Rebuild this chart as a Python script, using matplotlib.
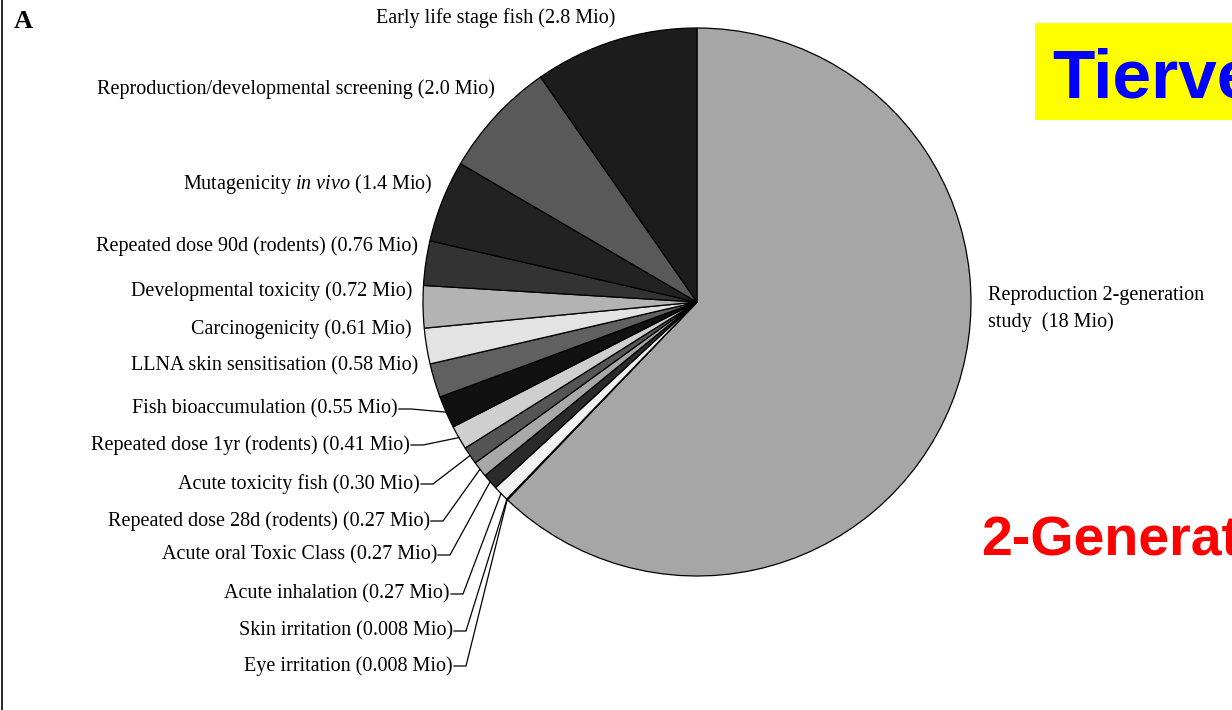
import matplotlib.pyplot as plt
import numpy as np

plt.rcParams['font.family'] = ['Liberation Serif', 'DejaVu Serif']
plt.rcParams['mathtext.fontset'] = 'custom'
plt.rcParams['mathtext.rm'] = 'Liberation Serif'
plt.rcParams['mathtext.it'] = 'Liberation Serif:italic'

# slices in clockwise order starting at 12 o'clock
labels = ["Reproduction 2-generation\nstudy  (18 Mio)",
          "Eye irritation (0.008 Mio)",
          "Skin irritation (0.008 Mio)",
          "Acute inhalation (0.27 Mio)",
          "Acute oral Toxic Class (0.27 Mio)",
          "Repeated dose 28d (rodents) (0.27 Mio)",
          "Acute toxicity fish (0.30 Mio)",
          "Repeated dose 1yr (rodents) (0.41 Mio)",
          "Fish bioaccumulation (0.55 Mio)",
          "LLNA skin sensitisation (0.58 Mio)",
          "Carcinogenicity (0.61 Mio)",
          "Developmental toxicity (0.72 Mio)",
          "Repeated dose 90d (rodents) (0.76 Mio)",
          r"Mutagenicity $\mathit{in\ vivo}$ (1.4 Mio)",
          "Reproduction/developmental screening (2.0 Mio)",
          "Early life stage fish (2.8 Mio)"]
animals = [18, 0.008, 0.008, 0.27, 0.27, 0.27, 0.30, 0.41, 0.55,
           0.58, 0.61, 0.72, 0.76, 1.4, 2.0, 2.8]

colors = ['#a6a6a6', '#000000', '#000000', '#f2f2f2', '#2b2b2b', '#a8a8a8',
          '#555555', '#cfcfcf', '#111111', '#606060', '#e3e3e3', '#b3b3b3',
          '#333333', '#222222', '#595959', '#1c1c1c']

# label anchors in pixels (x = right end of text, y from top)
lab_x = [988, 453, 453, 450, 437, 430, 420, 410, 398, 418, 412, 412, 418, 433, 495, 615]
lab_y = [309, 666, 631, 594, 555, 521, 484, 445, 409, 366, 329, 291, 246, 184, 89, 18]
has_line = [False] + [True] * 8 + [False] * 7

W, H = 1232, 710
fig = plt.figure(figsize=(W / 100, H / 100), dpi=100)
ax = fig.add_axes([0, 0, 1, 1])

cx, cy, r = 697, H - 302, 274
wedges, _ = ax.pie(animals, colors=colors, startangle=90, counterclock=False,
                   center=(cx, cy), radius=r, frame=True,
                   wedgeprops=dict(edgecolor='black', linewidth=0.9))
ax.set_xlim(0, W)
ax.set_ylim(0, H)
ax.set_aspect('equal')
ax.axis('off')

for i, (lab, x, y) in enumerate(zip(labels, lab_x, lab_y)):
    yy = H - y
    if i == 0:
        ax.text(x, yy, lab, ha='left', va='center', fontsize=14.5, linespacing=1.55)
        continue
    ax.text(x, yy, lab, ha='right', va='center', fontsize=14.5)
    if has_line[i]:
        w = wedges[i]
        ang = np.deg2rad((w.theta1 + w.theta2) / 2)
        ex, ey = cx + r * np.cos(ang), cy + r * np.sin(ang)
        ax.plot([x + 1, x + 13, ex], [yy, yy, ey], color='black', lw=0.9)

fig.text(14 / W, 1 - 22 / H, 'A', fontsize=19, fontweight='bold', va='center')
fig.add_artist(plt.Line2D([2.5 / W, 2.5 / W], [0, 1], color='black', lw=1.2))

# overlay annotations (cut off by the right edge, as in the slide)
fig.add_artist(plt.Rectangle((1035 / W, 1 - 120 / H), (W - 1035) / W, 97 / H,
                             facecolor='#ffff00', edgecolor='none'))
fig.text(1052 / W, 1 - 98 / H, 'Tierve', fontsize=50, fontweight='bold',
         color='#0000ff', family='Liberation Sans', va='baseline')
fig.text(981 / W, 1 - 555 / H, '2-Generat', fontsize=40, fontweight='bold',
         color='#ff0000', family='Liberation Sans', va='baseline')

fig.savefig('out.png', dpi=100)
